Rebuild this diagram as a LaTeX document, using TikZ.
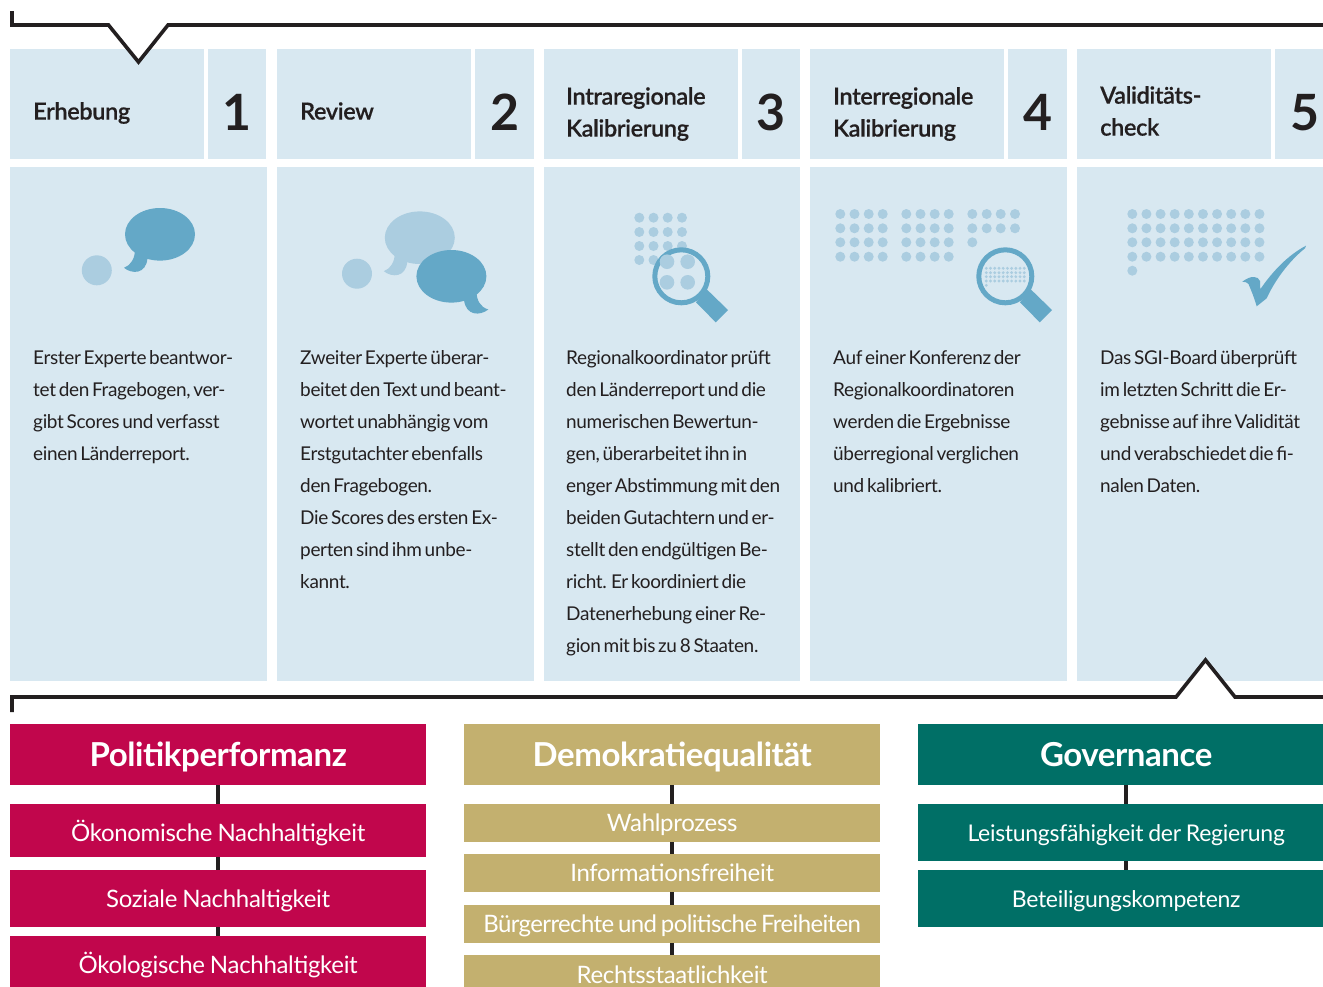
\documentclass[tikz,border=0pt]{standalone}
\usepackage{fontspec}
\setmainfont{Lato}[LetterSpace=-1.3,WordSpace=0.85]
\newfontfamily\bodyf{Lato}[LetterSpace=-1.8,WordSpace=0.6]
\newfontfamily\semi{Lato Semibold}[LetterSpace=-1.5,FakeBold=0.35]
\newfontfamily\tightf{Lato}[LetterSpace=-2.6,WordSpace=0.7]
\definecolor{panel}{HTML}{D8E8F1}
\definecolor{dark}{HTML}{64A8C7}
\definecolor{light}{HTML}{ABCDE0}
\definecolor{crim}{HTML}{C1064C}
\definecolor{gold}{HTML}{C3B06F}
\definecolor{teal2}{HTML}{006F66}
\definecolor{ink}{HTML}{231F20}
\tikzset{
 x=1pt,y=-1pt,
 pan/.style={fill=panel,draw=none,inner sep=0pt,anchor=north west},
 headtxt/.style={anchor=west,inner sep=0pt,align=left,text=ink,font=\semi\fontsize{23.5}{32}\selectfont},
 numtxt/.style={inner sep=0pt,text=ink,font=\bfseries\fontsize{50}{50}\selectfont},
 bodytxt/.style={anchor=north west,inner sep=0pt,align=left,text=ink,font=\bodyf\fontsize{19}{32}\selectfont},
 baseoff/.style={text height={2*#1pt+5pt},text depth=5pt},
 titlebox/.style={inner sep=0pt,anchor=north west,minimum width=416pt,minimum height=61pt,text=white,baseoff=12,font=\bfseries\fontsize{33}{36}\selectfont},
 subbox/.style={inner sep=0pt,anchor=north west,minimum width=416pt,text=white,font=\fontsize{24}{28}\selectfont},
 conn/.style={draw=ink,line width=4pt},
 bracket/.style={draw=ink,line width=3.6pt,miter limit=10},
}
\newcommand{\column}[6]{% name, x, labelwidth, numwidth, totalwidth, number
 \node[pan,minimum width=#3pt,minimum height=110pt] (#1h) at (#2,49) {};
 \node[pan,minimum width=#4pt,minimum height=110pt] (#1n) at (#2+#3+4,49) {};
 \node[pan,minimum width=#5pt,minimum height=514pt] (#1b) at (#2,167) {};
 \node[numtxt] (#1d) at ([yshift=-8pt]#1n.center) {#6};
}
\newcommand{\bubbleR}[3]{% tail to lower left; centre x,y, colour
 \fill[#3] (#1,#2) ellipse [x radius=35,y radius=26.3];
 \fill[#3] (#1-25,#2+15) .. controls (#1-25,#2+24) and (#1-29,#2+31) .. (#1-36,#2+33.5)
   .. controls (#1-28,#2+40) and (#1-14,#2+40) .. (#1-12.5,#2+24) -- cycle;
}
\newcommand{\lens}[2]{%
 \fill[dark] (#1+25.4,#2+13) -- (#1+46.7,#2+33.7) -- (#1+34.4,#2+46) -- (#1+14.7,#2+26) -- cycle;
 \draw[dark,fill=panel,line width=5pt] (#1,#2) circle [radius=26.5];
}
\begin{document}
\begin{tikzpicture}
\useasboundingbox (0,0) rectangle (1323,986);
\clip (0,0) rectangle (1323,986);
\column{a}{10}{194}{58}{257}{1}
\column{b}{277}{194}{59}{257}{2}
\column{c}{544}{194}{58}{256}{3}
\column{d}{810}{194}{59}{257}{4}
\column{e}{1077}{194}{59}{257}{5}

\node[headtxt] (at) at (33,113) {Erhebung};
\node[headtxt] (bt) at (300,111) {Review};
\node[headtxt] (ct) at (566,114) {Intraregionale\\Kalibrierung};
\node[headtxt] (dt) at (833,114) {Interregionale\\Kalibrierung};
\node[headtxt] (et) at (1100,111) {Validitäts-\\check};

\node[bodytxt] (ax) at (33,350) {Erster Experte beantwor-\\tet den Fragebogen, ver-\\gibt Scores und verfasst\\einen Länderreport.};
\node[bodytxt] (bx) at (300,350) {Zweiter Experte überar-\\beitet den Text und beant-\\wortet unabhängig vom\\Erstgutachter ebenfalls\\den Fragebogen.\\Die Scores des ersten Ex-\\perten sind ihm unbe-\\kannt.};
\node[bodytxt] (cx) at (566,350) {Regionalkoordinator prüft\\den Länderreport und die\\numerischen Bewertun-\\gen, überarbeitet ihn in\\enger Abstimmung mit den\\beiden Gutachtern und er-\\stellt den endgültigen Be-\\richt. Er koordiniert die\\Datenerhebung einer Re-\\gion mit bis zu 8 Staaten.};
\node[bodytxt] (dx) at (833,350) {Auf einer Konferenz der\\Regionalkoordinatoren\\werden die Ergebnisse\\überregional verglichen\\und kalibriert.};
\node[bodytxt] (ex) at (1100,350) {Das SGI-Board überprüft\\im letzten Schritt die Er-\\gebnisse auf ihre Validität\\und verabschiedet die fi-\\nalen Daten.};

% icons: panel 1
\fill[light] (96.8,270.3) circle [radius=15];
\bubbleR{160}{234.3}{dark}
% panel 2
\fill[light] (357,273.7) circle [radius=15];
\bubbleR{419.8}{237.7}{light}
\fill[dark] (451.4,276.3) ellipse [x radius=35,y radius=26.3];
\fill[dark] (476.5,291) .. controls (476.5,300) and (480,307) .. (488.3,309.5)
   .. controls (480,316) and (466,316) .. (464,300) -- cycle;
% panel 3
\foreach \x in {639.3,653.5,667.7,682}
 \foreach \y in {217.7,232,246,260} \fill[light] (\x,\y) circle [radius=5];
\lens{681.3}{276.3}
\foreach \x in {667,687.7}
 \foreach \y in {261.7,282.3} \fill[light] (\x,\y) circle [radius=7.3];
% panel 4
\foreach \x in {840.3,854.5,868.7,882.7,906.3,920.5,934.7,948.7}
 \foreach \y in {214,228.3,242.3,256.7} \fill[light] (\x,\y) circle [radius=5];
\foreach \x in {972.3,986.7,1000.7,1015}
 \foreach \y in {214,228.3} \fill[light] (\x,\y) circle [radius=5];
\fill[light] (972.3,242.3) circle [radius=5];
\lens{1005.3}{276.3}
\foreach \i in {0,...,9}
 \foreach \y in {268.3,272.7,276.7,281} \fill[light] (986.3+4.22*\i,\y) circle [radius=1.6];
\fill[light] (986.3,285.3) circle [radius=1.6];
% panel 5
\foreach \i in {0,...,9}
 \foreach \y in {214,228.3,242.3,256.7} \fill[light] (1132.3+14.13*\i,\y) circle [radius=5];
\fill[light] (1132.3,270.7) circle [radius=5];
\fill[dark] (1306,245.7) -- (1305,248.3) .. controls (1288,262) and (1274,282) .. (1266.7,298.3)
  -- (1256.7,306.3) .. controls (1254,297) and (1251,290) .. (1248.5,284)
  .. controls (1247,282.5) and (1245,281.5) .. (1242.3,281.7) .. controls (1247,278) and (1252,276.5) .. (1254,277)
  .. controls (1257,277) and (1259,278.5) .. (1260,281) -- (1260.3,289.3) .. controls (1272,272) and (1288,255) .. (1306,245.7) -- cycle;

% brackets
\coordinate (t0) at (12,11);
\coordinate (t1) at (12,25);
\coordinate (t2) at (108.5,25);
\coordinate (t3) at (138.5,62);
\coordinate (t4) at (168,25);
\coordinate (t5) at (1323,25);
\fill[white] (t2) -- (t3) -- (t4) -- cycle;
\draw[bracket] (t0) -- (t1) -- (t2) -- (t3) -- (t4) -- (t5);
\coordinate (u0) at (12,712);
\coordinate (u1) at (12,697);
\coordinate (u2) at (1176,697);
\coordinate (u3) at (1205.5,660);
\coordinate (u4) at (1235,697);
\coordinate (u5) at (1323,697);
\fill[white] (u2) -- (u3) -- (u4) -- cycle;
\draw[bracket] (u0) -- (u1) -- (u2) -- (u3) -- (u4) -- (u5);

% lower boxes
\node[titlebox,fill=crim] (p0) at (10,724) {Politikperformanz};
\node[subbox,fill=crim,minimum height=53pt,baseoff=11] (p1) at (10,804) {Ökonomische Nachhaltigkeit};
\node[subbox,fill=crim,minimum height=57pt,baseoff=9] (p2) at (10,870) {Soziale Nachhaltigkeit};
\node[subbox,fill=crim,minimum height=60pt,baseoff=7.3] (p3) at (10,936) {Ökologische Nachhaltigkeit};
\node[titlebox,fill=gold] (q0) at (464,724) {Demokratiequalität};
\node[subbox,fill=gold,minimum height=38pt,baseoff=8.7] (q1) at (464,804) {Wahlprozess};
\node[subbox,fill=gold,minimum height=38pt,baseoff=8.7] (q2) at (464,854) {Informationsfreiheit};
\node[subbox,fill=gold,minimum height=38pt,baseoff=8.7,font=\tightf\fontsize{24}{28}\selectfont] (q3) at (464,905) {Bürgerrechte und politische Freiheiten};
\node[subbox,fill=gold,minimum height=38pt,baseoff=9] (q4) at (464,955) {Rechtsstaatlichkeit};
\node[titlebox,fill=teal2] (r0) at (918,724) {Governance};
\node[subbox,fill=teal2,minimum height=57pt,baseoff=9,font=\fontsize{23}{28}\selectfont] (r1) at (918,804) {Leistungsfähigkeit der Regierung};
\node[subbox,fill=teal2,minimum height=57pt,baseoff=9,font=\fontsize{23}{28}\selectfont] (r2) at (918,870) {Beteiligungskompetenz};
\draw[conn] (p0) -- (p1);
\draw[conn] (p1) -- (p2);
\draw[conn] (p2) -- (p3);
\draw[conn] (q0) -- (q1);
\draw[conn] (q1) -- (q2);
\draw[conn] (q2) -- (q3);
\draw[conn] (q3) -- (q4);
\draw[conn] (r0) -- (r1);
\draw[conn] (r1) -- (r2);
\end{tikzpicture}
\end{document}
